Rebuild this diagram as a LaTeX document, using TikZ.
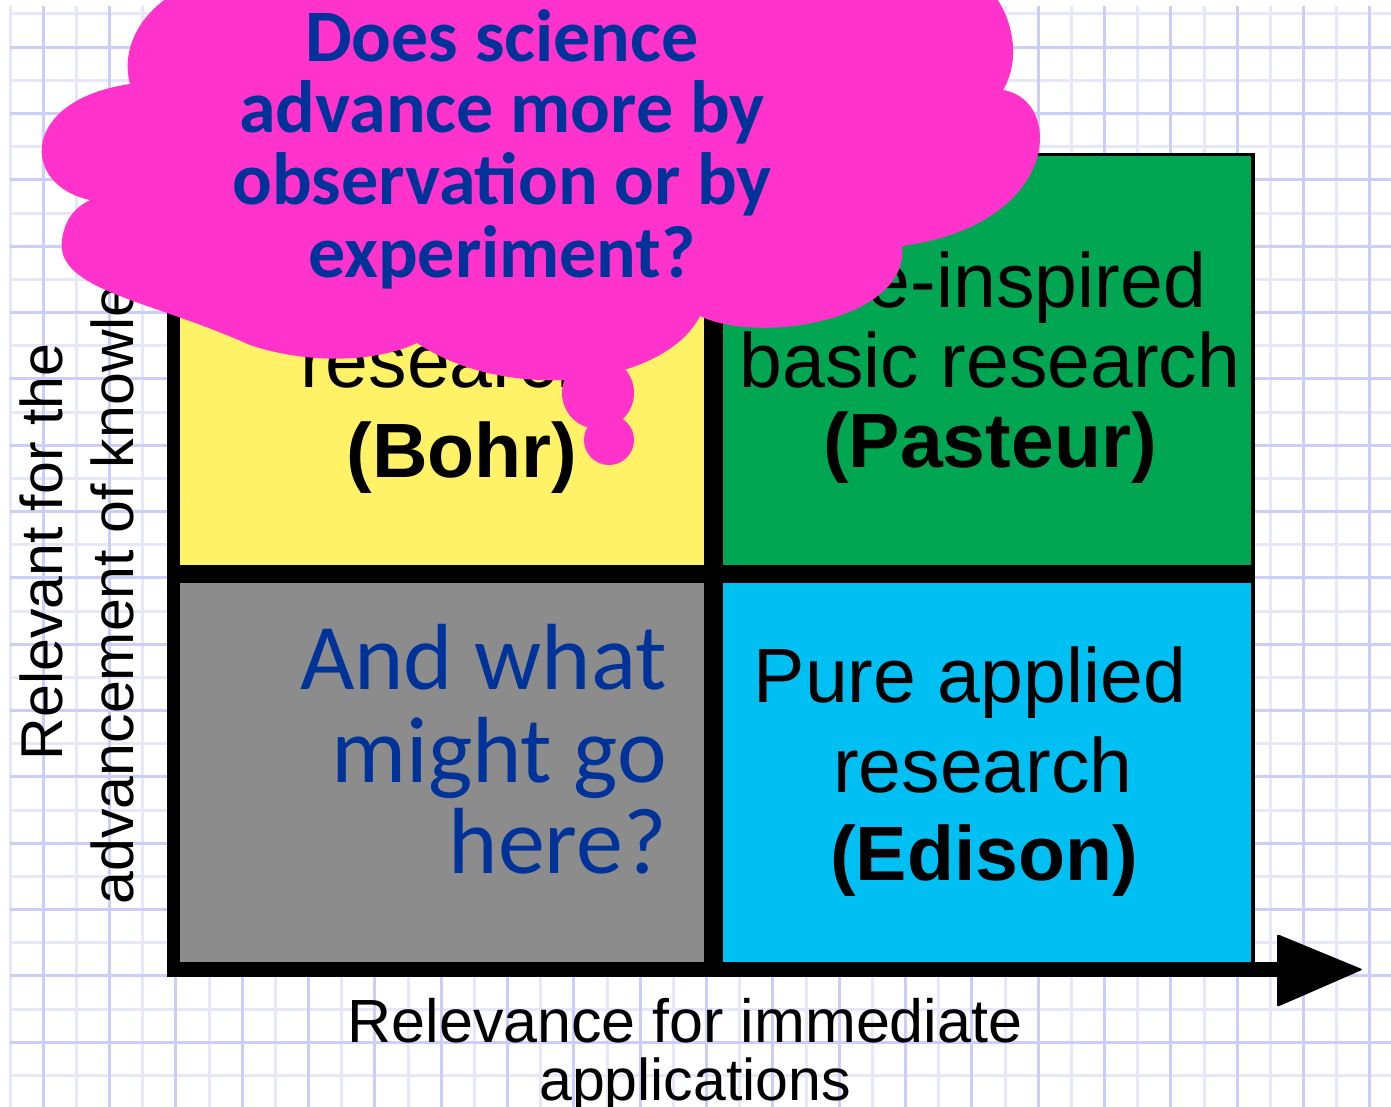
\documentclass[tikz,border=0pt]{standalone}
\usepackage{fontspec}
\setmainfont{Liberation Sans}
\newfontfamily\calibrifont{Carlito}
\definecolor{gridlight}{RGB}{230,232,250}
\definecolor{griddark}{RGB}{205,205,250}
\definecolor{boxyellow}{RGB}{255,242,102}
\definecolor{boxgreen}{RGB}{0,166,81}
\definecolor{boxgrey}{RGB}{140,140,140}
\definecolor{boxblue}{RGB}{0,191,243}
\definecolor{cloudpink}{RGB}{255,51,204}
\definecolor{inkblue}{RGB}{0,51,153}

\begin{document}
\begin{tikzpicture}[x=1pt,y=-1pt,
  gridthin/.style={gridlight,line width=3pt},
  gridthick/.style={griddark,line width=3pt},
  quadtext/.style={anchor=base,inner sep=0pt,font=\fontsize{77}{77}\selectfont},
  quadname/.style={quadtext,font=\fontsize{77}{77}\selectfont\bfseries},
  asktext/.style={anchor=base east,inner sep=0pt,text=inkblue,font=\calibrifont\fontsize{94}{94}\selectfont},
  cloudtext/.style={anchor=base,inner sep=0pt,text=inkblue,font=\calibrifont\bfseries\fontsize{74}{74}\selectfont},
  axislabel/.style={anchor=base,inner sep=0pt,font=\fontsize{59}{59}\selectfont},
  axisbar/.style={black,line width=#1}]

% page and background
\useasboundingbox (0,0) rectangle (1391,1107);
\clip (0,0) rectangle (1391,1107);
\fill[white] (0,0) rectangle (1391,1107);

% graph paper: light and dark lines alternate
\foreach \m in {0,...,20} \draw[gridthin] ({10+66.34*\m},6) -- ({10+66.34*\m},1110);
\foreach \m in {0,...,16} \draw[gridthin] (10,{14+66.34*\m}) -- (1395,{14+66.34*\m});
\foreach \m in {0,...,20} \draw[gridthick] ({43.17+66.34*\m},6) -- ({43.17+66.34*\m},1110);
\foreach \m in {0,...,15} \draw[gridthick] (10,{47.17+66.34*\m}) -- (1395,{47.17+66.34*\m});

% the four quadrants
\fill[boxyellow] (180,153) rectangle (704,565);
\fill[boxgreen]  (723,153) rectangle (1253,565);
\fill[boxgrey]   (180,583) rectangle (704,963);
\fill[boxblue]   (723,583) rectangle (1253,963);

% quadrant texts
\node[quadtext] (bohr1) at (450,387) {research};
\node[quadname] (bohr2) at (462,477) {(Bohr)};
\node[quadtext] (pasteur1) at (990,307) {Use-inspired};
\node[quadtext] (pasteur2) at (990,387) {basic research};
\node[quadname] (pasteur3) at (990,467) {(Pasteur)};
\node[quadtext] (edison1) at (970,702) {Pure applied};
\node[quadtext] (edison2) at (983,792) {research};
\node[quadname] (edison3) at (984,880) {(Edison)};
\node[asktext] (ask1) at (667,689) {And what};
\node[asktext] (ask2) at (667,782) {might go};
\node[asktext] (ask3) at (667,873) {here?};

% dividers and box borders
\fill[black] (704,153) rectangle (723,963);
\fill[black] (167,565) rectangle (1255,583);
\fill[black] (704,153) rectangle (1255,156.5);
\fill[black] (1251,153) rectangle (1255,970);

% axes
\coordinate (origin) at (167,969.5);
\coordinate (xshaft) at (1285,969.5);
\coordinate (xtip) at (1363,969.5);
\coordinate (headtop) at (1277,934);
\coordinate (headbottom) at (1277,1007);
\coordinate (ybottom) at (173.5,977);
\coordinate (ytop) at (173.5,150);
\draw[axisbar=13pt] (ybottom) -- (ytop);
\draw[axisbar=15pt] (origin) -- (xshaft);
\fill[black,rounded corners=2pt] (headtop) -- (xtip) -- (headbottom) -- cycle;

% axis labels
\node[axislabel,rotate=90] (ylab1) at (62,552) {Relevant for the};
\node[axislabel,rotate=90] (ylab2) at (133,545) {advancement of knowledge};
\node[axislabel,font=\fontsize{61}{61}\selectfont] (xlab1) at (685,1042) {Relevance for immediate};
\node[axislabel] (xlab2) at (695,1100) {applications};

% thought cloud
\fill[cloudpink] (130,84)
  .. controls (118,40) and (150,-20) .. (260,-35)
  -- (950,-35)
  .. controls (1000,-25) and (1030,45) .. (1003,90)
  .. controls (1065,100) and (1060,225) .. (902,246)
  .. controls (910,320) and (760,345) .. (700,316)
  .. controls (665,385) and (510,405) .. (417,343)
  .. controls (370,365) and (300,362) .. (250,345)
  .. controls (150,300) and (55,290) .. (62,240)
  .. controls (65,215) and (80,205) .. (90,200)
  .. controls (20,185) and (20,100) .. (130,84) -- cycle;
\fill[cloudpink] (598,393) circle[radius=36];
\fill[cloudpink] (609,440) circle[radius=25];

\node[cloudtext] (q1) at (502,62) {Does science};
\node[cloudtext] (q2) at (502,133) {advance more by};
\node[cloudtext] (q3) at (502,205) {observation or by};
\node[cloudtext] (q4) at (502,277) {experiment?};
\end{tikzpicture}
\end{document}
